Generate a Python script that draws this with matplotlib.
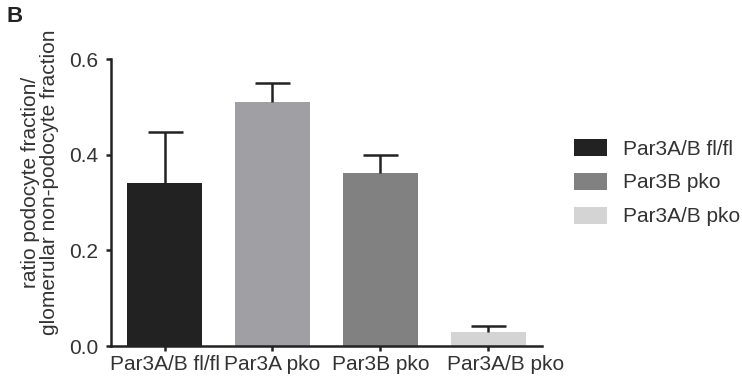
import numpy as np
import matplotlib.pyplot as plt
import matplotlib.transforms as mtransforms
from matplotlib.patches import Patch

plt.rcParams['font.family'] = ['Liberation Sans', 'DejaVu Sans']

# datos
groups = ["Par3A/B fl/fl", "Par3A pko", "Par3B pko", "Par3A/B pko"]
means = [0.342, 0.511, 0.363, 0.030]
sem = [0.106, 0.039, 0.036, 0.0125]
colors = ["#222222", "#a0a0a4", "#818181", "#d4d4d4"]
legend_labels = ["Par3A/B fl/fl", "Par3B pko", "Par3A/B pko"]
legend_colors = ["#222222", "#818181", "#d4d4d4"]
yticks = [0.0, 0.2, 0.4, 0.6]

fig = plt.figure(figsize=(7.42, 3.83), dpi=100)
ax = fig.add_axes([0.149, 0.0966, 0.582, 0.7484])

x = np.arange(len(groups))
ax.bar(x, means, width=0.69, color=colors, zorder=2)
_, caps, _ = ax.errorbar(x, means, yerr=[np.zeros(len(sem)), sem], fmt="none",
                         ecolor="#222222", elinewidth=1.8, capsize=12.6,
                         capthick=1.8, zorder=3)
caps[0].set_visible(False)   # sin tapa inferior

ax.set_xlim(-0.5, 3.5)
ax.set_ylim(0, 0.6)
ax.set_yticks(yticks)
ax.set_yticklabels([f"{v:.1f}" for v in yticks])
ax.set_xticks(x)
ax.set_xticklabels(groups)

for s in ["top", "right"]:
    ax.spines[s].set_visible(False)
for s in ["left", "bottom"]:
    ax.spines[s].set_linewidth(1.8)
    ax.spines[s].set_color("#222222")
ax.tick_params(axis="both", length=3.6, width=1.8, color="#222222",
               labelsize=15, labelcolor="#333333")
ax.tick_params(axis="y", pad=5)
ax.tick_params(axis="x", pad=3)

# la ultima etiqueta esta corrida a la derecha en el original
lbl = ax.get_xticklabels()[-1]
lbl.set_transform(lbl.get_transform() + mtransforms.ScaledTranslation(12/72, 0, fig.dpi_scale_trans))

fig.text(40/742, 1-182/383, "ratio podocyte fraction/\nglomerular non-podocyte fraction",
         rotation=90, ha="center", va="center", fontsize=15, color="#333333",
         linespacing=1.0)
fig.text(7/742, 1-17/383, "B", fontsize=16, fontweight="bold", va="center", color="#222222")

handles = [Patch(facecolor=c, edgecolor="none") for c in legend_colors]
fig.legend(handles, legend_labels, loc="upper left",
           bbox_to_anchor=(574/742, 1-139/383), frameon=False,
           fontsize=15, handlelength=1.58, handleheight=0.87,
           handletextpad=0.77, labelspacing=0.68, borderpad=0, borderaxespad=0,
           labelcolor="#333333")

plt.savefig("out.png", dpi=100)
